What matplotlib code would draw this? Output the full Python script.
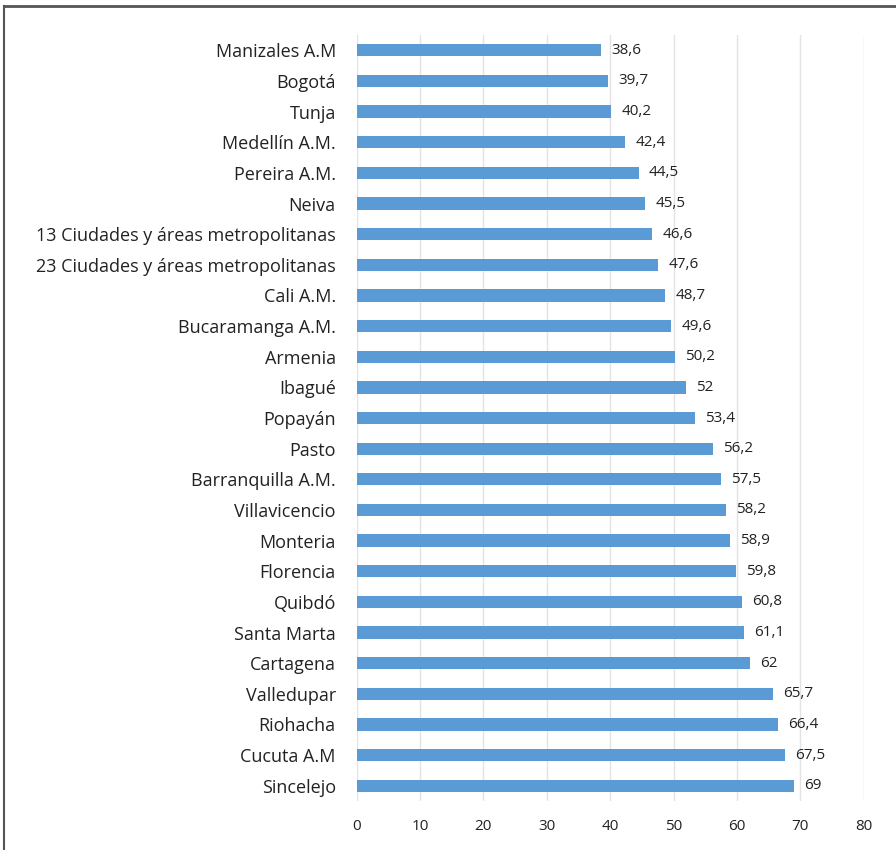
import matplotlib.pyplot as plt
from matplotlib.lines import Line2D

ciudades = ['Manizales A.M', 'Bogotá', 'Tunja', 'Medellín A.M.', 'Pereira A.M.', 'Neiva',
            '13 Ciudades y áreas metropolitanas', '23 Ciudades y áreas metropolitanas',
            'Cali A.M.', 'Bucaramanga A.M.', 'Armenia', 'Ibagué', 'Popayán', 'Pasto',
            'Barranquilla A.M.', 'Villavicencio', 'Monteria', 'Florencia', 'Quibdó',
            'Santa Marta', 'Cartagena', 'Valledupar', 'Riohacha', 'Cucuta A.M', 'Sincelejo']
valores = [38.6, 39.7, 40.2, 42.4, 44.5, 45.5, 46.6, 47.6, 48.7, 49.6, 50.2, 52, 53.4, 56.2,
           57.5, 58.2, 58.9, 59.8, 60.8, 61.1, 62, 65.7, 66.4, 67.5, 69]

plt.rcParams['font.family'] = ['Open Sans', 'DejaVu Sans']

fig = plt.figure(figsize=(8.96, 8.5), dpi=100)
ax = fig.add_axes([0.398, 0.0576, 0.566, 0.9012])

pos = range(len(ciudades))
ax.barh(pos, valores, height=0.4, color='#5B9BD5', zorder=3)
for y, v in zip(pos, valores):
    txt = f'{v:g}'.replace('.', ',')
    ax.text(v + 1.6, y, txt, va='center', ha='left', fontsize=11, color='#222222')

ax.set_ylim(len(ciudades) - 0.5, -0.5)
ax.set_yticks(list(pos))
ax.set_yticklabels(ciudades, fontsize=13, color='#222222')
ax.set_xlim(0, 80)
ax.set_xticks(range(0, 81, 10))
ax.tick_params(axis='x', labelsize=11, colors='#222222', length=0, pad=13)
ax.tick_params(axis='y', length=0, pad=15)
ax.grid(axis='x', color='#e3e3e3', linewidth=1, zorder=0)
for s in ax.spines.values():
    s.set_visible(False)

# outer frame (top and left edges)
fig.add_artist(Line2D([0.005, 0.005], [0, 0.993], transform=fig.transFigure, color='#555555', lw=1.5))
fig.add_artist(Line2D([0.005, 1], [0.993, 0.993], transform=fig.transFigure, color='#555555', lw=2))

fig.savefig('out.png', dpi=100)
